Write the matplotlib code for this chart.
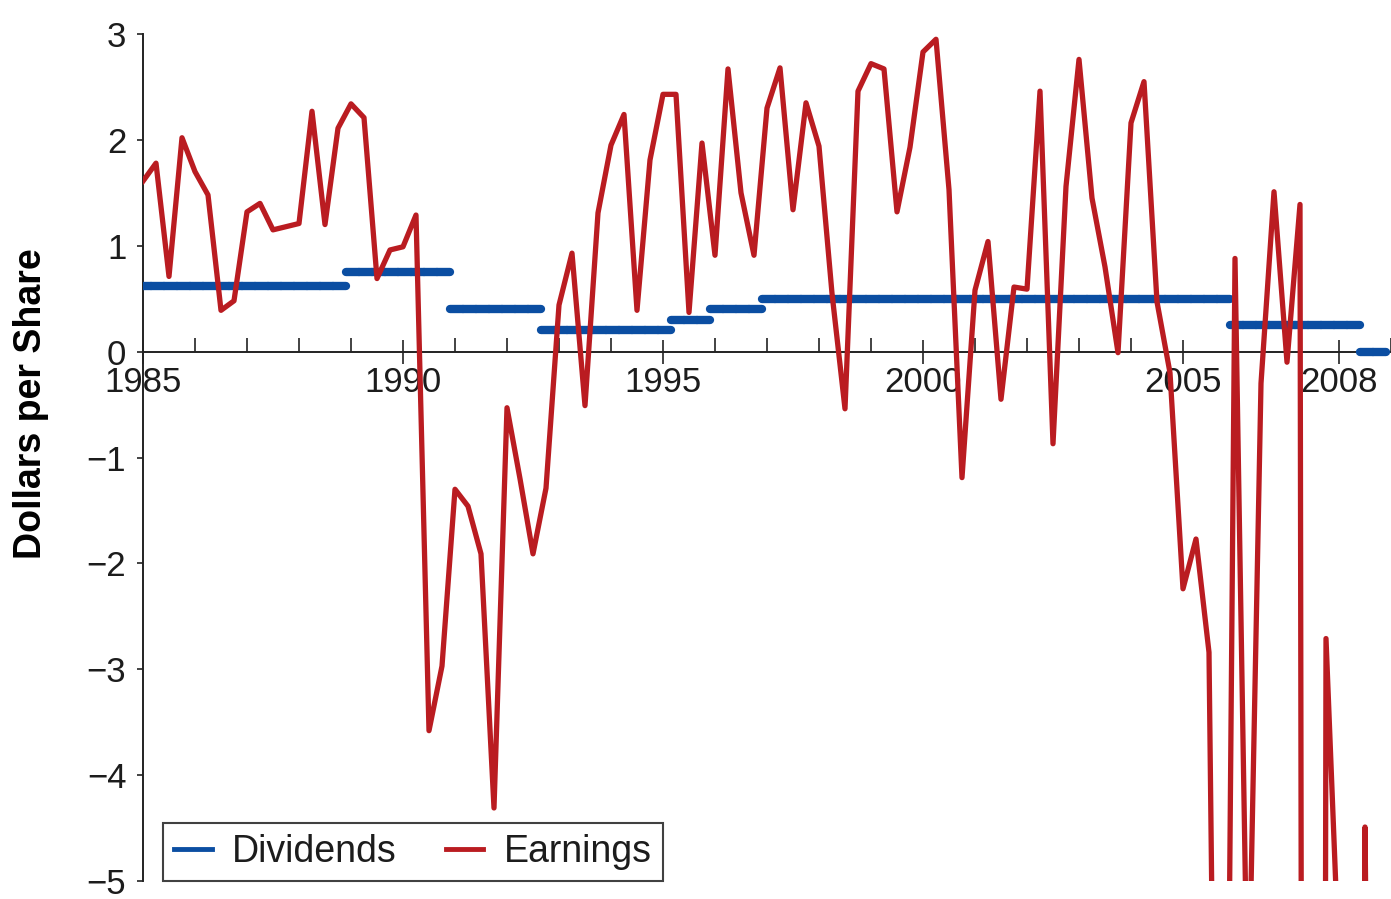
import numpy as np
import pandas as pd
import matplotlib
matplotlib.use("Agg")
import matplotlib.pyplot as plt
from matplotlib.lines import Line2D
from matplotlib.ticker import FixedLocator, MultipleLocator

# quarterly data, 1985Q1 .. 2008Q4
periods = pd.period_range("1985Q1", "2008Q4", freq="Q")

earnings = [
    1.61, 1.78, 0.71, 2.02,      # 1985
    1.70, 1.48, 0.39, 0.48,      # 1986
    1.32, 1.40, 1.15, 1.18,      # 1987
    1.21, 2.27, 1.20, 2.11,      # 1988
    2.34, 2.21, 0.69, 0.96,      # 1989
    0.99, 1.29, -3.58, -2.97,    # 1990
    -1.30, -1.46, -1.91, -4.31,  # 1991
    -0.53, -1.20, -1.91, -1.29,  # 1992
    0.44, 0.93, -0.51, 1.31,     # 1993
    1.95, 2.24, 0.39, 1.81,      # 1994
    2.43, 2.43, 0.37, 1.97,      # 1995
    0.91, 2.67, 1.50, 0.91,      # 1996
    2.30, 2.68, 1.34, 2.35,      # 1997
    1.94, 0.55, -0.54, 2.46,     # 1998
    2.72, 2.67, 1.32, 1.93,      # 1999
    2.83, 2.95, 1.53, -1.19,     # 2000
    0.58, 1.04, -0.45, 0.61,     # 2001
    0.59, 2.46, -0.87, 1.56,     # 2002
    2.76, 1.45, 0.80, -0.01,     # 2003
    2.16, 2.55, 0.47, -0.20,     # 2004
    -2.24, -1.77, -2.84, -13.5,  # 2005
    0.88, -6.5, -0.30, 1.51,     # 2006
    -0.10, 1.39, -68.85, -2.71,  # 2007
    -5.80, -26.9, -4.49, -16.5,  # 2008
]

dividends = (
    [0.62] * 16 + [0.75] * 8 + [0.40] * 7 + [0.20] * 10 + [0.30] * 3
    + [0.40] * 4 + [0.50] * 36 + [0.25] * 10 + [0.00] * 2
)

major_years = [1985, 1990, 1995, 2000, 2005, 2008]

red = "#BA1C21"
blue = "#0B4EA2"
txt = "#1c1c1c"

t = np.array([p.year + (p.quarter - 1) / 4 for p in periods])

plt.rcParams["font.family"] = ["Liberation Sans", "DejaVu Sans"]

fig = plt.figure(figsize=(13.91, 8.99), dpi=100)
ax = fig.add_axes([0.1028, 0.0200, 0.8972, 0.9422])

ax.hlines(dividends, t - 0.1, t + 0.15, colors=blue, linewidth=6,
          capstyle="round", zorder=3)
ax.plot(t, earnings, color=red, linewidth=3.8, solid_joinstyle="round",
        zorder=4)

ax.set_xlim(1985, 2009)
ax.set_ylim(-5, 3)

for side in ["top", "right"]:
    ax.spines[side].set_visible(False)
ax.spines["bottom"].set_position(("data", 0))
for side in ["bottom", "left"]:
    ax.spines[side].set_linewidth(1.4)
    ax.spines[side].set_color("#222222")

ax.xaxis.set_major_locator(FixedLocator(major_years))
ax.xaxis.set_minor_locator(MultipleLocator(1))
ax.tick_params(axis="x", which="major", direction="inout", length=17,
               width=1.2, labelsize=25, pad=2, colors="#222222")
ax.tick_params(axis="x", which="minor", direction="in", length=10,
               width=1.2, colors="#222222")
ax.yaxis.set_major_locator(MultipleLocator(1))
ax.tick_params(axis="y", direction="out", length=4, width=1.2,
               labelsize=25, pad=8, colors="#222222")
for lab in ax.get_xticklabels():
    lab.set_color(txt)
    lab.set_bbox(dict(facecolor="white", edgecolor="none", pad=1))
for lab in ax.get_yticklabels():
    lab.set_color(txt)

fig.text(31 / 1391, 1 - 404 / 899, "Dollars per Share", rotation=90,
         ha="center", va="center", fontsize=27, fontweight="bold", color="black")

handles = [Line2D([], [], color=blue, lw=3.5), Line2D([], [], color=red, lw=3.5)]
leg = ax.legend(handles, ["Dividends", "Earnings"], loc="lower left",
                bbox_to_anchor=(0.016, 0.0), borderaxespad=0, ncol=2,
                fontsize=27, frameon=True, fancybox=False, handlelength=1.0,
                handletextpad=0.55, columnspacing=1.3, borderpad=0.3)
leg.get_frame().set_edgecolor("#111111")
leg.get_frame().set_linewidth(1.5)
for text in leg.get_texts():
    text.set_color(txt)
leg.set_zorder(5)

fig.savefig("out.png", dpi=100)
